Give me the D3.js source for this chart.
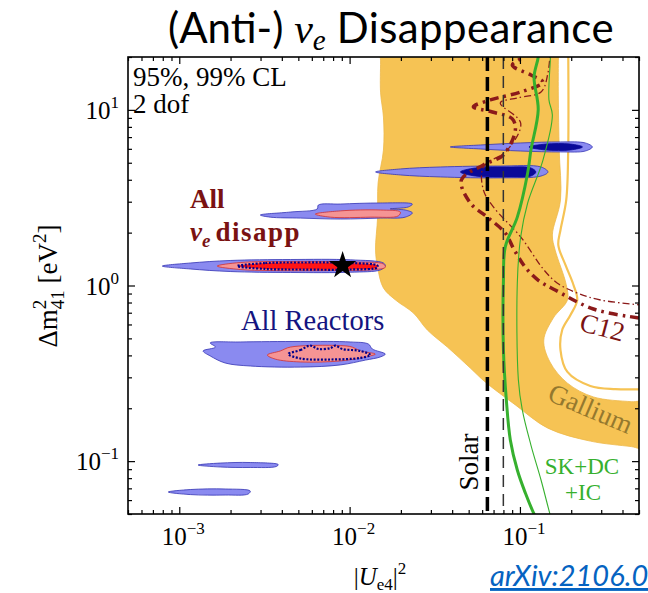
<!DOCTYPE html>
<html>
<head>
<meta charset="utf-8">
<script src="https://cdn.jsdelivr.net/npm/d3@7"></script>
<style>
  body { margin: 0; background: #fff; }
  svg { display: block; }
</style>
</head>
<body>
<svg id="chart" width="648" height="593"></svg>
<script>
// ---- axes ----
const xDomain = [5e-4, 0.5];          // |U_e4|^2
const yDomain = [0.05, 20];           // Δm²41 [eV²]
const xMajorTicks = [1e-3, 1e-2, 1e-1];
const xTickExponents = ["−3", "−2", "−1"];
const yMajorTicks = [0.1, 1, 10];
const yTickExponents = ["−1", "0", "1"];

// ---- Gallium anomaly: 95% CL filled band and 99% CL contour ([|U_e4|^2, Δm²]) ----
const galliumBand = [
  [0.0152, 23], [0.0152, 19], [0.0152, 12.5], [0.0158, 9.1], [0.0158, 5.9], [0.0147, 3.84],
  [0.0146, 2.45], [0.0142, 1.59], [0.0146, 1.27], [0.0158, 0.968], [0.0186, 0.827],
  [0.0237, 0.697], [0.0286, 0.558], [0.0375, 0.446], [0.0511, 0.339], [0.0626, 0.282],
  [0.094, 0.209], [0.146, 0.154], [0.259, 0.130], [0.45, 0.121], [0.55, 0.118],
  [0.55, 0.216], [0.45, 0.218], [0.27, 0.232], [0.19, 0.278], [0.150, 0.367], [0.138, 0.489],
  [0.157, 0.653], [0.19, 0.827], [0.187, 1.01], [0.161, 1.59], [0.155, 1.94],
  [0.173, 3.07], [0.170, 5.9], [0.168, 12], [0.168, 19], [0.168, 23]
];
const galliumContour99 = [
  [0.192, 23], [0.192, 5.9], [0.187, 3.07], [0.173, 2.07], [0.168, 1.70],
  [0.185, 1.31], [0.206, 1.01], [0.217, 0.827], [0.198, 0.679], [0.177, 0.558],
  [0.173, 0.429], [0.19, 0.322], [0.259, 0.268], [0.363, 0.257], [0.55, 0.257]
];

// ---- C12 (KARMEN + LSND) exclusion, 95% and 99% CL ----
const c12Contour95 = [
  [0.108, 23], [0.1033, 20], [0.0902, 18.0], [0.116, 15.8], [0.1365, 14.4], [0.1014, 12.65],
  [0.067, 11.4], [0.0533, 10.4], [0.0689, 9.73], [0.0902, 8.88], [0.094, 7.68],
  [0.0799, 5.54], [0.061, 4.86], [0.0453, 3.99], [0.0511, 2.95], [0.0644, 2.45],
  [0.082, 1.99], [0.0927, 1.59], [0.1076, 1.27], [0.1282, 1.07], [0.161, 0.943],
  [0.27, 0.735], [0.5, 0.653], [0.55, 0.645]
];
const c12Contour99 = [
  [0.151, 23], [0.146, 16.2], [0.133, 12.65], [0.0965, 11.7], [0.0767, 10.95],
  [0.101, 8.42], [0.0843, 5.9], [0.061, 4.72], [0.061, 3.5], [0.0698, 2.8],
  [0.101, 1.89], [0.138, 1.23], [0.166, 1.03], [0.217, 0.906], [0.297, 0.827], [0.55, 0.77]
];

// ---- SK + DeepCore + IceCube, 95% and 99% CL ----
const skdcicContour95 = [
  [0.128, 23], [0.128, 20], [0.121, 15.4], [0.128, 10.0], [0.116, 5.9], [0.111, 4.37],
  [0.0965, 2.45], [0.082, 1.66], [0.080, 1.07], [0.080, 0.429], [0.0832, 0.223],
  [0.0878, 0.132], [0.0965, 0.089], [0.1076, 0.0658], [0.121, 0.05], [0.128, 0.045]
];
const skdcicContour99 = [
  [0.151, 23], [0.151, 20], [0.148, 11.4], [0.155, 9.35], [0.1365, 5.18], [0.111, 2.95],
  [0.101, 1.89], [0.0965, 1.03], [0.0979, 0.290], [0.1033, 0.195], [0.116, 0.1235],
  [0.133, 0.0781], [0.150, 0.05], [0.155, 0.045]
];

// ---- Solar bound, 95% and 99% CL ----
const solarBound95 = 0.0644;
const solarBound99 = 0.0799;

// ---- All ν_e disappearance: 99% / 95% / best-fit island ----
const nueDisapp99 = [
  [7.95e-4, 1.29], [1.16e-3, 1.343], [1.99e-3, 1.388], [4.49e-3, 1.406], [0.0101, 1.40],
  [0.0158, 1.343], [0.0162, 1.29], [0.01515, 1.226], [0.0101, 1.19], [4.49e-3, 1.186],
  [1.99e-3, 1.201], [1.16e-3, 1.242]
];
const nueDisapp95 = [
  [1.67e-3, 1.29], [2.28e-3, 1.352], [4.49e-3, 1.37], [0.0101, 1.36], [0.0158, 1.326],
  [0.0162, 1.27], [0.01415, 1.233], [7.7e-3, 1.217], [3.42e-3, 1.217], [2.28e-3, 1.233]
];
const nueDisappCore = [
  [2.19e-3, 1.29], [3.2e-3, 1.343], [5.14e-3, 1.352], [0.0101, 1.343], [0.01455, 1.30],
  [0.01455, 1.266], [0.0101, 1.233], [5.14e-3, 1.233], [3.2e-3, 1.242]
];
const nueDisappUpper99 = [
  [0.00299, 2.52], [0.00449, 2.62], [0.00646, 2.73], [0.00655, 2.87], [0.00882, 2.91],
  [0.01515, 2.95], [0.02335, 2.91], [0.0221, 2.80], [0.0173, 2.73], [0.0212, 2.69],
  [0.02335, 2.59], [0.0212, 2.45], [0.01515, 2.42], [0.00882, 2.39], [0.00514, 2.42],
  [0.00342, 2.45]
];
const nueDisappUpper95 = [
  [0.00629, 2.55], [0.00882, 2.66], [0.01515, 2.69], [0.01985, 2.62], [0.0193, 2.49],
  [0.01323, 2.45], [0.0077, 2.45]
];
const bestFit = [0.0091, 1.3];

// ---- All reactors ----
const reactors99 = [
  [1.38e-3, 0.424], [1.63e-3, 0.446], [1.52e-3, 0.471], [2.28e-3, 0.477], [5.14e-3, 0.48],
  [0.0101, 0.477], [0.0129, 0.464], [0.0136, 0.435], [0.0162, 0.407], [0.01515, 0.392],
  [0.01237, 0.376], [8.82e-3, 0.353], [5.14e-3, 0.343], [2.61e-3, 0.348], [1.86e-3, 0.362],
  [1.52e-3, 0.397]
];
const reactors95 = [
  [3.29e-3, 0.402], [3.92e-3, 0.424], [4.49e-3, 0.446], [8.82e-3, 0.455], [0.01037, 0.446],
  [0.01156, 0.424], [0.01415, 0.407], [0.01237, 0.392], [8.82e-3, 0.372], [5.14e-3, 0.367],
  [3.66e-3, 0.381]
];
const reactorsCore = [
  [4.37e-3, 0.407], [5.14e-3, 0.429], [5.88e-3, 0.455], [6.55e-3, 0.435], [7.7e-3, 0.44],
  [8.24e-3, 0.455], [9.06e-3, 0.435], [0.01156, 0.424], [0.01323, 0.402], [0.01156, 0.387],
  [7.7e-3, 0.379], [5.14e-3, 0.384]
];
const reactorsLow1 = [
  [1.29e-3, 0.095], [1.74e-3, 0.0975], [2.61e-3, 0.0982], [3.81e-3, 0.0956],
  [3.71e-3, 0.0932], [2.61e-3, 0.092], [1.74e-3, 0.0926]
];
const reactorsLow2 = [
  [8.62e-4, 0.0667], [1.16e-3, 0.0689], [1.86e-3, 0.0694], [2.61e-3, 0.0676],
  [2.54e-3, 0.065], [1.86e-3, 0.0641], [1.16e-3, 0.0645]
];

// ---- high-Δm² islands (99% light, 95% dark) ----
const highIsland1_99 = [
  [0.039, 6.15], [0.0586, 6.31], [0.101, 6.48], [0.173, 6.57], [0.242, 6.48], [0.266, 6.15],
  [0.242, 5.83], [0.173, 5.76], [0.101, 5.83], [0.0586, 5.99]
];
const highIsland1_95 = [
  [0.113, 6.15], [0.142, 6.39], [0.198, 6.39], [0.233, 6.15], [0.198, 5.91], [0.142, 5.91]
];
const highIsland2_99 = [
  [0.0142, 4.43], [0.0199, 4.61], [0.0341, 4.73], [0.0767, 4.79], [0.133, 4.73], [0.146, 4.43],
  [0.133, 4.20], [0.0767, 4.10], [0.0341, 4.15], [0.0199, 4.26]
];
const highIsland2_95 = [
  [0.0447, 4.43], [0.0547, 4.67], [0.0878, 4.73], [0.116, 4.67], [0.124, 4.43], [0.116, 4.20],
  [0.0878, 4.15], [0.0547, 4.20]
];

// ---------------------------------------------------------------
const W = 648, H = 593;
const plot = { left: 128, right: 639, top: 57, bottom: 514 };
const serif = "'Liberation Serif', 'Times New Roman', serif";
const sans = "Lato, 'Liberation Sans', sans-serif";

const x = d3.scaleLog().domain(xDomain).range([plot.left, plot.right]);
const y = d3.scaleLog().domain(yDomain).range([plot.bottom, plot.top]);

const svg = d3.select("#chart");
svg.append("rect").attr("width", W).attr("height", H).attr("fill", "#fff");

svg.append("defs").append("clipPath").attr("id", "plotClip")
  .append("rect")
  .attr("x", plot.left).attr("y", plot.top)
  .attr("width", plot.right - plot.left).attr("height", plot.bottom - plot.top);

const g = svg.append("g").attr("clip-path", "url(#plotClip)");

const closedPath = d3.line().x(d => x(d[0])).y(d => y(d[1]))
  .curve(d3.curveCatmullRomClosed.alpha(0.5));
const openPath = d3.line().x(d => x(d[0])).y(d => y(d[1]))
  .curve(d3.curveCatmullRom.alpha(0.5));

// Gallium
g.append("path").attr("d", closedPath(galliumBand))
  .attr("fill", "#F6C354").attr("stroke", "#EDB94A").attr("stroke-width", 0.8);
g.append("path").attr("d", openPath(galliumContour99))
  .attr("fill", "none").attr("stroke", "#F6C354").attr("stroke-width", 2.2);

// islands
function island(data, fill, stroke, sw, dash) {
  const p = g.append("path").attr("d", closedPath(data))
    .attr("fill", fill).attr("stroke", stroke).attr("stroke-width", sw);
  if (dash) p.attr("stroke-dasharray", dash);
  return p;
}
const lightBlue = "#8A8AF0", blueEdge = "#3434B4";
const darkBlue = "#0A0A98";
const pink = "#F59494", pinkEdge = "#D23030";
const red = "#FF1414", navy = "#00008B";

island(highIsland1_99, lightBlue, blueEdge, 0.8);
island(highIsland1_95, darkBlue, darkBlue, 0.8);
island(highIsland2_99, lightBlue, blueEdge, 0.8);
island(highIsland2_95, darkBlue, darkBlue, 0.8);

island(nueDisappUpper99, lightBlue, blueEdge, 0.8);
island(nueDisappUpper95, pink, pinkEdge, 0.8);
island(nueDisapp99, lightBlue, blueEdge, 0.8);
island(nueDisapp95, pink, pinkEdge, 0.8);
island(nueDisappCore, red, navy, 2.2, "2,1.6");

island(reactors99, lightBlue, blueEdge, 0.8);
island(reactors95, pink, pinkEdge, 0.8);
island(reactorsCore, pink, navy, 2.2, "2,1.6");
island(reactorsLow1, lightBlue, blueEdge, 0.8);
island(reactorsLow2, lightBlue, blueEdge, 0.8);

// C12
const c12Color = "#8B1A1A";
g.append("path").attr("d", openPath(c12Contour99))
  .attr("fill", "none").attr("stroke", c12Color).attr("stroke-width", 1.3)
  .attr("stroke-dasharray", "7,3,1.5,3");
g.append("path").attr("d", openPath(c12Contour95))
  .attr("fill", "none").attr("stroke", c12Color).attr("stroke-width", 3.5)
  .attr("stroke-dasharray", "9,5,2.5,5");

// SK+DC+IC
const green = "#36B02E";
g.append("path").attr("d", openPath(skdcicContour99))
  .attr("fill", "none").attr("stroke", green).attr("stroke-width", 1.1);
g.append("path").attr("d", openPath(skdcicContour95))
  .attr("fill", "none").attr("stroke", green).attr("stroke-width", 3);

// Solar
g.append("line").attr("x1", x(solarBound99)).attr("x2", x(solarBound99))
  .attr("y1", plot.top).attr("y2", plot.bottom)
  .attr("stroke", "#333").attr("stroke-width", 1.5).attr("stroke-dasharray", "12,7");
g.append("line").attr("x1", x(solarBound95)).attr("x2", x(solarBound95))
  .attr("y1", plot.top).attr("y2", plot.bottom)
  .attr("stroke", "#000").attr("stroke-width", 3.5).attr("stroke-dasharray", "14,6");

// best fit
g.append("path")
  .attr("d", d3.symbol(d3.symbolStar, 235)())
  .attr("transform", `translate(${x(bestFit[0])},${y(bestFit[1])})`)
  .attr("fill", "#000");

// ---- in-plot labels ----
const lab = svg.append("g").attr("font-family", serif);
lab.append("text").attr("x", 133).attr("y", 86).attr("font-size", 27).text("95%, 99% CL");
lab.append("text").attr("x", 133).attr("y", 113).attr("font-size", 27).text("2 dof");

const dred = "#7A1212";
lab.append("text").attr("x", 190).attr("y", 208).attr("font-size", 27)
  .attr("font-weight", "bold").attr("fill", dred).text("All");
const nueLab = lab.append("text").attr("x", 190).attr("y", 241).attr("font-size", 27)
  .attr("fill", dred);
nueLab.append("tspan").attr("font-style", "italic").attr("font-weight", "bold").text("ν");
nueLab.append("tspan").attr("font-style", "italic").attr("font-weight", "bold")
  .attr("font-size", 19).attr("dy", 6).text("e");
nueLab.append("tspan").attr("font-weight", "bold").attr("dx", 5).attr("dy", -6)
  .attr("letter-spacing", 1.5).text("disapp");

lab.append("text").attr("x", 241).attr("y", 330).attr("font-size", 28.5)
  .attr("fill", "#141480").text("All Reactors");

lab.append("text").attr("transform", "translate(478,462) rotate(-90)")
  .attr("text-anchor", "middle").attr("font-size", 27).text("Solar");

const skLab = lab.append("text").attr("text-anchor", "middle")
  .attr("font-size", 23).attr("fill", green);
skLab.append("tspan").attr("x", 582).attr("y", 474).text("SK+DC");
skLab.append("tspan").attr("x", 583).attr("y", 500).text("+IC");

lab.append("text").attr("transform", "translate(600,336) rotate(15)")
  .attr("text-anchor", "middle").attr("font-size", 27).attr("fill", dred).text("C12");
lab.append("text").attr("transform", "translate(587,417) rotate(23)")
  .attr("text-anchor", "middle").attr("font-size", 27).attr("fill", "#94782E").text("Gallium");

// ---- axes (inward ticks on all four sides) ----
const minorOf = (dom) => {
  const out = [];
  const k0 = Math.floor(Math.log10(dom[0])), k1 = Math.ceil(Math.log10(dom[1]));
  for (let k = k0; k <= k1; k++)
    for (let m = 2; m <= 9; m++) {
      const v = m * Math.pow(10, k);
      if (v >= dom[0] * 0.999 && v <= dom[1] * 1.001) out.push(v);
    }
  return out;
};
const xMinor = minorOf(xDomain), yMinor = minorOf(yDomain);

function addAxis(gen, scale, vals, len, tr) {
  const a = svg.append("g").attr("transform", tr)
    .call(gen(scale).tickValues(vals).tickSize(-len).tickSizeOuter(0).tickFormat(""));
  a.select(".domain").remove();
  a.selectAll(".tick line").attr("stroke", "#000").attr("stroke-width", 1.2);
}
addAxis(d3.axisBottom, x, xMajorTicks, 7, `translate(0,${plot.bottom})`);
addAxis(d3.axisBottom, x, xMinor, 4, `translate(0,${plot.bottom})`);
addAxis(d3.axisTop, x, xMajorTicks, 7, `translate(0,${plot.top})`);
addAxis(d3.axisTop, x, xMinor, 4, `translate(0,${plot.top})`);
addAxis(d3.axisLeft, y, yMajorTicks, 7, `translate(${plot.left},0)`);
addAxis(d3.axisLeft, y, yMinor, 4, `translate(${plot.left},0)`);
addAxis(d3.axisRight, y, yMajorTicks, 7, `translate(${plot.right},0)`);
addAxis(d3.axisRight, y, yMinor, 4, `translate(${plot.right},0)`);

svg.append("rect")
  .attr("x", plot.left).attr("y", plot.top)
  .attr("width", plot.right - plot.left).attr("height", plot.bottom - plot.top)
  .attr("fill", "none").attr("stroke", "#000").attr("stroke-width", 1.6);

// tick labels
const tl = svg.append("g").attr("font-family", serif);
xMajorTicks.forEach((v, i) => {
  const t = tl.append("text").attr("x", x(v) + 4).attr("y", 545)
    .attr("text-anchor", "middle").attr("font-size", 25);
  t.append("tspan").text("10");
  t.append("tspan").attr("font-size", 17).attr("dy", -11).text(xTickExponents[i]);
});
yMajorTicks.forEach((v, i) => {
  const t = tl.append("text").attr("x", 119).attr("y", y(v) + 9)
    .attr("text-anchor", "end").attr("font-size", 25);
  t.append("tspan").text("10");
  t.append("tspan").attr("font-size", 17).attr("dy", -11).text(yTickExponents[i]);
});

// axis titles
const xt = tl.append("text").attr("x", 380).attr("y", 585)
  .attr("text-anchor", "middle").attr("font-size", 25);
xt.append("tspan").text("|");
xt.append("tspan").attr("font-style", "italic").text("U");
xt.append("tspan").attr("font-size", 17).attr("dy", 5).text("e4");
xt.append("tspan").attr("dy", -5).text("|");
xt.append("tspan").attr("font-size", 17).attr("dy", -11).text("2");

const yt = tl.append("text").attr("transform", "translate(57,286) rotate(-90)")
  .attr("text-anchor", "middle").attr("font-size", 27);
yt.append("tspan").text("Δm");
yt.append("tspan").attr("font-size", 19).attr("dy", -11).text("2");
yt.append("tspan").attr("font-size", 19).attr("dx", -9.5).attr("dy", 18).text("41");
yt.append("tspan").attr("dy", -7).text(" [eV");
yt.append("tspan").attr("font-size", 19).attr("dy", -11).text("2");
yt.append("tspan").attr("dy", 11).text("]");

// title
const title = svg.append("text").attr("x", 391).attr("y", 43)
  .attr("text-anchor", "middle").attr("font-family", sans).attr("font-size", 42);
title.append("tspan").text("(Anti-) ");
title.append("tspan").attr("font-family", serif).attr("font-style", "italic").text("ν");
title.append("tspan").attr("font-family", serif).attr("font-style", "italic")
  .attr("font-size", 29).attr("dy", 7).text("e");
title.append("tspan").attr("dy", -7).attr("letter-spacing", 0.4).text(" Disappearance");

// reference link
svg.append("text").attr("x", 490).attr("y", 586)
  .attr("font-family", sans).attr("font-style", "italic").attr("font-size", 29)
  .attr("fill", "#0563C1").attr("text-decoration", "underline")
  .text("arXiv:2106.0");
</script>
</body>
</html>
